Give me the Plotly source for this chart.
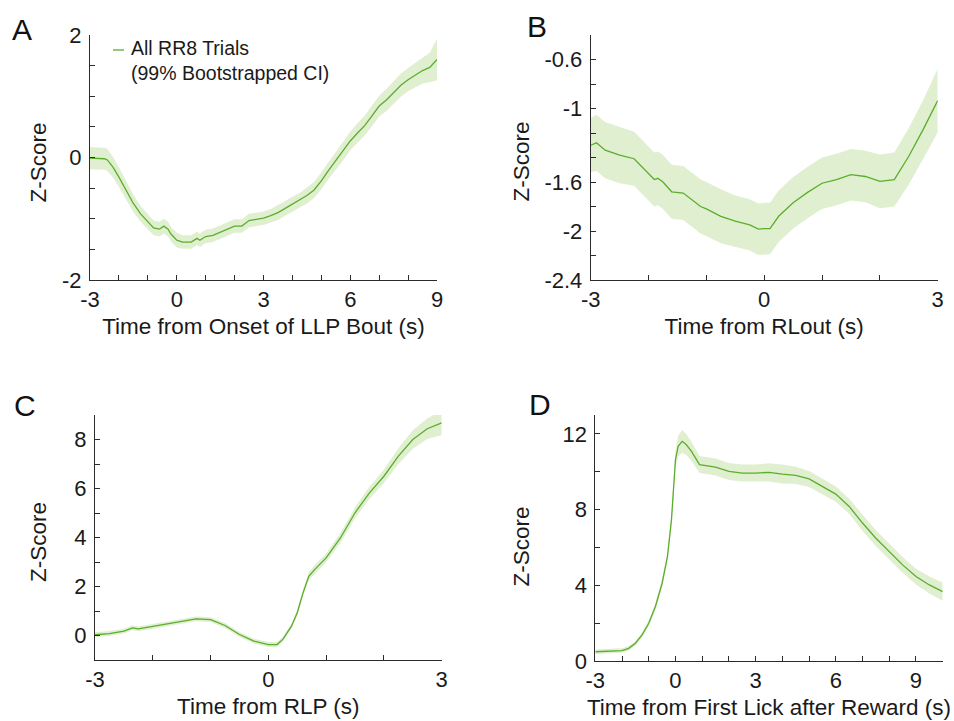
import plotly.graph_objects as go

# ---------------- data ----------------
# Panel A: Time from Onset of LLP Bout
tA = [-3, -2.75, -2.5, -2.4, -2.2, -2, -1.75, -1.5, -1.25, -1, -0.8, -0.6, -0.45, -0.3, -0.2, 0,
      0.2, 0.5, 0.7, 0.8, 1, 1.25, 1.5, 1.75, 2, 2.25, 2.5, 2.75, 3, 3.25, 3.5, 3.75, 4, 4.25, 4.5,
      4.75, 5, 5.25, 5.5, 5.75, 6, 6.25, 6.5, 6.75, 7, 7.25, 7.5, 7.75, 8, 8.25, 8.5, 8.75, 9]
mA = [-0.01, -0.01, -0.02, -0.04, -0.16, -0.32, -0.53, -0.75, -0.92, -1.05, -1.15, -1.17, -1.12,
      -1.17, -1.25, -1.35, -1.38, -1.38, -1.32, -1.35, -1.29, -1.27, -1.22, -1.17, -1.12, -1.12,
      -1.03, -1.01, -0.99, -0.95, -0.90, -0.83, -0.76, -0.70, -0.62, -0.53, -0.38, -0.21, -0.05,
      0.10, 0.27, 0.40, 0.52, 0.68, 0.84, 0.94, 1.06, 1.18, 1.27, 1.35, 1.42, 1.47, 1.60]
hA = [0.18, 0.18, 0.18, 0.18, 0.17, 0.16, 0.15, 0.14, 0.13, 0.12, 0.12, 0.12, 0.12, 0.12, 0.12,
      0.12, 0.11, 0.11, 0.11, 0.11, 0.11, 0.11, 0.11, 0.11, 0.11, 0.11, 0.11, 0.11, 0.11, 0.11,
      0.12, 0.12, 0.12, 0.12, 0.13, 0.13, 0.14, 0.14, 0.15, 0.15, 0.15, 0.16, 0.16, 0.17, 0.17,
      0.18, 0.18, 0.19, 0.19, 0.2, 0.21, 0.24, 0.34]

# Panel B: Time from RLout
tB = [-3, -2.9, -2.75, -2.5, -2.25, -2, -1.9, -1.84, -1.75, -1.6, -1.4, -1.1, -1, -0.75, -0.5,
      -0.25, -0.1, 0, 0.1, 0.25, 0.5, 0.75, 1, 1.25, 1.5, 1.75, 2, 2.25, 2.5, 2.75, 3]
mB = [-1.30, -1.28, -1.34, -1.38, -1.41, -1.53, -1.58, -1.57, -1.60, -1.68, -1.69, -1.80, -1.82,
      -1.88, -1.92, -1.95, -1.985, -1.98, -1.98, -1.88, -1.77, -1.685, -1.61, -1.58, -1.54,
      -1.555, -1.595, -1.58, -1.39, -1.17, -0.935]
hB = [0.22, 0.23, 0.23, 0.23, 0.22, 0.22, 0.22, 0.22, 0.22, 0.22, 0.22, 0.22, 0.22, 0.22, 0.21,
      0.21, 0.21, 0.21, 0.21, 0.21, 0.21, 0.21, 0.21, 0.21, 0.21, 0.21, 0.22, 0.22, 0.23, 0.24, 0.26]

# Panel C: Time from RLP
tC = [-3, -2.75, -2.5, -2.35, -2.25, -2, -1.75, -1.5, -1.25, -1, -0.75, -0.5, -0.25, 0, 0.15,
      0.25, 0.4, 0.5, 0.6, 0.7, 0.8, 1, 1.25, 1.5, 1.75, 2, 2.25, 2.5, 2.75, 3]
mC = [0.03, 0.08, 0.18, 0.31, 0.27, 0.38, 0.48, 0.585, 0.68, 0.65, 0.41, 0.04, -0.23, -0.37,
      -0.37, -0.16, 0.38, 0.93, 1.74, 2.42, 2.69, 3.17, 3.99, 5.01, 5.82, 6.50, 7.32, 8.0, 8.44, 8.68]
hC = [0.1, 0.1, 0.1, 0.1, 0.1, 0.1, 0.1, 0.1, 0.1, 0.1, 0.1, 0.1, 0.1, 0.1, 0.1, 0.1, 0.1, 0.12,
      0.14, 0.16, 0.18, 0.18, 0.2, 0.22, 0.25, 0.28, 0.32, 0.38, 0.42, 0.5]

# Panel D: Time from First Lick after Reward
tD = [-3, -2.5, -2, -1.75, -1.5, -1.25, -1, -0.75, -0.5, -0.3, -0.15, -0.05, 0, 0.1, 0.25, 0.4,
      0.6, 0.9, 1.5, 2, 2.5, 3, 3.5, 4, 4.5, 5, 5.5, 6, 6.5, 7, 7.5, 8, 8.5, 9, 9.5, 10]
mD = [0.49, 0.53, 0.55, 0.67, 0.94, 1.38, 1.99, 2.88, 4.11, 5.52, 7.46, 9.58, 10.64, 11.35, 11.61,
      11.44, 11.08, 10.38, 10.25, 10.02, 9.93, 9.93, 9.97, 9.88, 9.81, 9.62, 9.23, 8.82, 8.17,
      7.29, 6.49, 5.79, 5.08, 4.46, 4.02, 3.67]
hD = [0.12, 0.12, 0.12, 0.12, 0.12, 0.12, 0.15, 0.18, 0.22, 0.25, 0.3, 0.4, 0.45, 0.55, 0.6,
      0.55, 0.5, 0.45, 0.45, 0.45, 0.45, 0.45, 0.48, 0.5, 0.45, 0.42, 0.4, 0.4, 0.4, 0.42, 0.42,
      0.42, 0.42, 0.42, 0.45, 0.48]

# tick positions / labels
xtA = list(range(-3, 10)); xlA = ["-3", "", "", "0", "", "", "3", "", "", "6", "", "", "9"]
ytA = [-2, -1.5, -1, -0.5, 0, 0.5, 1, 1.5, 2]; ylA = ["-2", "", "", "", "0", "", "", "", "2"]
xtB = list(range(-3, 4)); xlB = ["-3", "", "", "0", "", "", "3"]
ytB = [-2.4, -2.2, -2.0, -1.8, -1.6, -1.4, -1.2, -1.0, -0.8, -0.6]
ylB = ["-2.4", "", "-2", "", "-1.6", "", "", "-1", "", "-0.6"]
xtC = list(range(-3, 4)); xlC = ["-3", "", "", "0", "", "", "3"]
ytC = list(range(-1, 10)); ylC = ["", "0", "", "2", "", "4", "", "6", "", "8", ""]
xtD = list(range(-3, 11)); xlD = ["-3", "", "", "0", "", "", "3", "", "", "6", "", "", "9", ""]
ytD = list(range(0, 13, 2)); ylD = ["0", "", "4", "", "8", "", "12"]

xtitles = ["Time from Onset of LLP Bout (s)", "Time from RLout (s)",
           "Time from RLP (s)", "Time from First Lick after Reward (s)"]
ytitle = "Z-Score"
panel_letters = ["A", "B", "C", "D"]
legend_name = "All RR8 Trials"
legend_sub = "(99% Bootstrapped CI)"

# ---------------- styling ----------------
W, H = 954, 721
LINE = "#5aae2c"
BAND = "rgba(214,234,192,0.75)"
AX = "#2b2b2b"
TXT = "#1a1a1a"
FONT = "Liberation Sans, Arial, sans-serif"

def px_x(p):
    return p / W

def px_y(p):
    return 1 - p / H

# plot-area boxes in pixels: (left, right, top, bottom)
boxes = [(90, 437, 35, 280), (590.7, 937.7, 35, 280), (95, 441.7, 415, 660), (595.3, 942.7, 415, 661)]
xranges = [[-3, 9], [-3, 3], [-3, 3], [-3, 10]]
yranges = [[-2, 2], [-2.4, -0.4], [-1, 9], [0, 13]]
xticks = [(xtA, xlA), (xtB, xlB), (xtC, xlC), (xtD, xlD)]
yticks = [(ytA, ylA), (ytB, ylB), (ytC, ylC), (ytD, ylD)]
series = [(tA, mA, hA), (tB, mB, hB), (tC, mC, hC), (tD, mD, hD)]
ytitle_pos = [(37.5, 163), (520.5, 162), (38, 542), (520.5, 547)]

fig = go.Figure()
layout = {}
for i in range(4):
    sfx = "" if i == 0 else str(i + 1)
    xa, ya = "x" + sfx, "y" + sfx
    t, m, h = series[i]
    up = [a + b for a, b in zip(m, h)]
    lo = [a - b for a, b in zip(m, h)]
    fig.add_trace(go.Scatter(x=t, y=up, mode="lines", line=dict(width=0, color=BAND),
                             xaxis=xa, yaxis=ya, showlegend=False, hoverinfo="skip"))
    fig.add_trace(go.Scatter(x=t, y=lo, mode="lines", line=dict(width=0, color=BAND),
                             fill="tonexty", fillcolor=BAND,
                             xaxis=xa, yaxis=ya, showlegend=False, hoverinfo="skip"))
    fig.add_trace(go.Scatter(x=t, y=m, mode="lines", line=dict(width=1.3, color=LINE),
                             xaxis=xa, yaxis=ya, showlegend=False, name=legend_name))
    l, r, tp, bt = boxes[i]
    common = dict(showline=True, linecolor=AX, linewidth=1, ticks="inside", ticklen=5,
                  tickcolor=AX, tickwidth=1, showgrid=False, zeroline=False, automargin=False,
                  tickfont=dict(family=FONT, size=22, color=TXT))
    layout["xaxis" + sfx] = dict(
        domain=[px_x(l), px_x(r)], range=xranges[i], anchor=ya,
        tickmode="array", tickvals=xticks[i][0], ticktext=xticks[i][1],
        title=dict(text=xtitles[i], font=dict(family=FONT, size=22.5, color=TXT), standoff=6),
        **common)
    layout["yaxis" + sfx] = dict(
        domain=[px_y(bt), px_y(tp)], range=yranges[i], anchor=xa,
        tickmode="array", tickvals=yticks[i][0], ticktext=yticks[i][1],
        ticklabelstandoff=3, **common)

annotations = []
for (tx, ty) in ytitle_pos:
    annotations.append(dict(text=ytitle, x=px_x(tx), y=px_y(ty), xref="paper", yref="paper",
                            showarrow=False, textangle=-90, xanchor="center", yanchor="middle",
                            font=dict(family=FONT, size=22.5, color=TXT)))
letter_pos = [(22, 30), (537, 27), (25, 405), (540, 404)]
for (lx, ly), s in zip(letter_pos, panel_letters):
    annotations.append(dict(text=s, x=px_x(lx), y=px_y(ly), xref="paper", yref="paper",
                            showarrow=False, xanchor="center", yanchor="middle",
                            font=dict(family=FONT, size=30, color="#111111")))
annotations.append(dict(text=legend_name + "<br>" + legend_sub, x=px_x(129), y=px_y(61),
                        xref="paper", yref="paper", showarrow=False, xanchor="left",
                        yanchor="middle", align="left",
                        font=dict(family=FONT, size=19.5, color=TXT)))
shapes = [dict(type="line", xref="paper", yref="paper", x0=px_x(113), x1=px_x(124),
               y0=px_y(50), y1=px_y(50), line=dict(color=LINE, width=1.3))]

fig.update_layout(width=W, height=H, margin=dict(l=0, r=0, t=0, b=0, autoexpand=False),
                  paper_bgcolor="white", plot_bgcolor="white",
                  annotations=annotations, shapes=shapes, showlegend=False,
                  font=dict(family=FONT), **layout)
fig.write_html("out.html")
